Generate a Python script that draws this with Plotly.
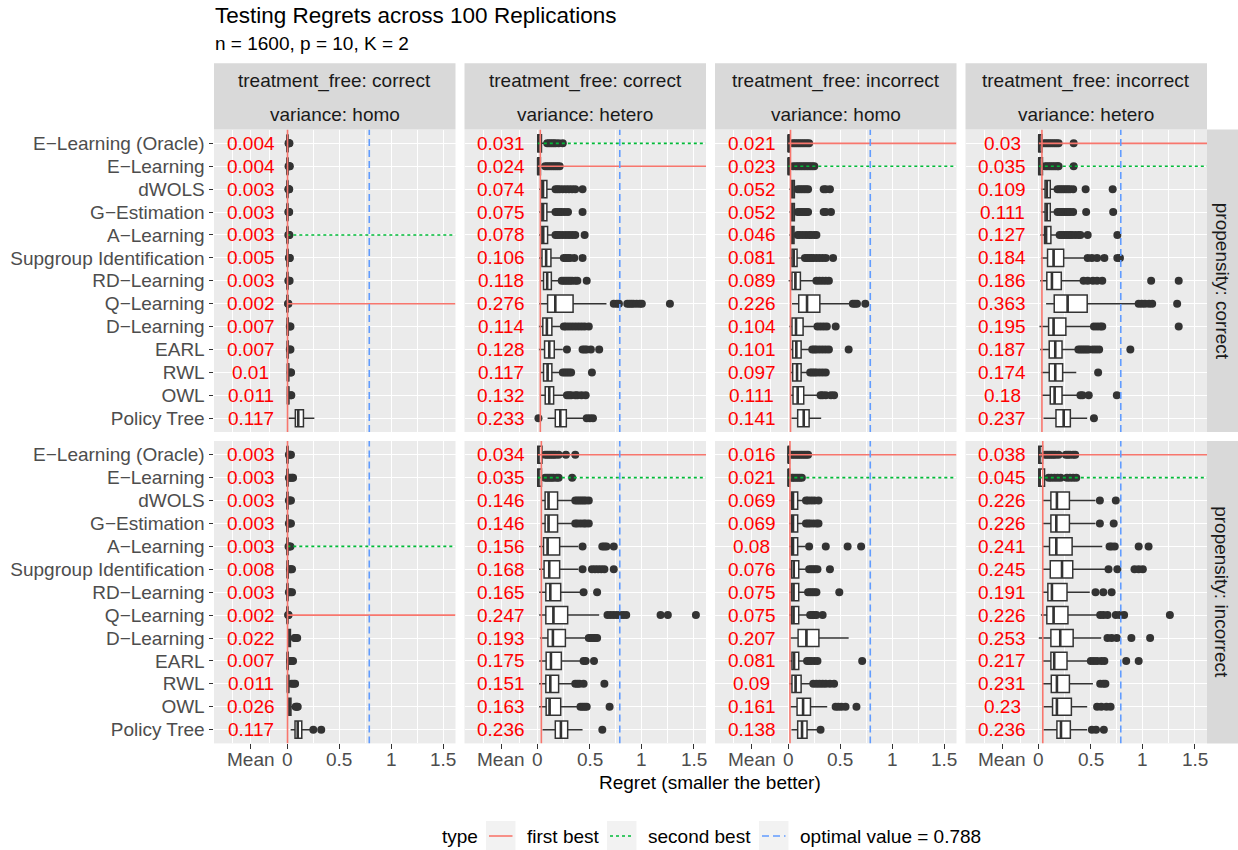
import plotly.graph_objects as go

# ---------------- data ----------------
METHODS = ["E−Learning (Oracle)", "E−Learning", "dWOLS", "G−Estimation", "A−Learning",
           "Supgroup Identification", "RD−Learning", "Q−Learning", "D−Learning", "EARL",
           "RWL", "OWL", "Policy Tree"]
TREATMENT_FREE = ["correct", "correct", "incorrect", "incorrect"]
VARIANCE = ["homo", "hetero", "homo", "hetero"]
PROPENSITY = ["correct", "incorrect"]
OPTIMAL = 0.788
X_TICKVALS = [-0.35, 0, 0.5, 1, 1.5]
X_TICKTEXT = ["Mean", "0", "0.5", "1", "1.5"]
X_MINOR = [-0.525, -0.175, 0.25, 0.75, 1.25]

# means (red labels), per panel (row = propensity, col = treatment_free/variance)
MEAN_R1C1 = [0.004, 0.004, 0.003, 0.003, 0.003, 0.005, 0.003, 0.002, 0.007, 0.007, 0.01, 0.011, 0.117]
MEAN_R1C2 = [0.031, 0.024, 0.074, 0.075, 0.078, 0.106, 0.118, 0.276, 0.114, 0.128, 0.117, 0.132, 0.233]
MEAN_R1C3 = [0.021, 0.023, 0.052, 0.052, 0.046, 0.081, 0.089, 0.226, 0.104, 0.101, 0.097, 0.111, 0.141]
MEAN_R1C4 = [0.03, 0.035, 0.109, 0.111, 0.127, 0.184, 0.186, 0.363, 0.195, 0.187, 0.174, 0.18, 0.237]
MEAN_R2C1 = [0.003, 0.003, 0.003, 0.003, 0.003, 0.008, 0.003, 0.002, 0.022, 0.007, 0.011, 0.026, 0.117]
MEAN_R2C2 = [0.034, 0.035, 0.146, 0.146, 0.156, 0.168, 0.165, 0.247, 0.193, 0.175, 0.151, 0.163, 0.236]
MEAN_R2C3 = [0.016, 0.021, 0.069, 0.069, 0.08, 0.076, 0.075, 0.075, 0.207, 0.081, 0.09, 0.161, 0.138]
MEAN_R2C4 = [0.038, 0.045, 0.226, 0.226, 0.241, 0.245, 0.191, 0.226, 0.253, 0.217, 0.231, 0.23, 0.236]

# box statistics: (lower whisker, q1, median, q3, upper whisker)
BOX_R1C1 = [(0, 0, 0.001, 0.004, 0.009), (0, 0, 0.001, 0.004, 0.009), (0, 0, 0.001, 0.003, 0.007),
            (0, 0, 0.001, 0.003, 0.007), (0, 0, 0.001, 0.003, 0.007), (0, 0, 0.002, 0.005, 0.012),
            (0, 0, 0.001, 0.003, 0.007), (0, 0, 0.001, 0.002, 0.005), (0, 0, 0.004, 0.009, 0.02),
            (0, 0.001, 0.004, 0.009, 0.02), (0, 0.002, 0.006, 0.013, 0.028), (0, 0.002, 0.007, 0.014, 0.03),
            (0.013, 0.077, 0.105, 0.155, 0.26)]
BOX_R1C2 = [(0, 0, 0.005, 0.035, 0.08), (0, 0, 0.003, 0.025, 0.06), (0.012, 0.032, 0.05, 0.087, 0.15),
            (0.012, 0.032, 0.05, 0.087, 0.15), (0.012, 0.032, 0.052, 0.094, 0.155), (0.012, 0.04, 0.08, 0.126, 0.22),
            (0.02, 0.055, 0.09, 0.13, 0.22), (0.013, 0.094, 0.168, 0.339, 0.66), (0.01, 0.048, 0.087, 0.135, 0.22),
            (0.01, 0.065, 0.11, 0.158, 0.24), (0.03, 0.055, 0.094, 0.135, 0.22), (0.02, 0.071, 0.11, 0.152, 0.26),
            (0.094, 0.168, 0.216, 0.274, 0.46)]
BOX_R1C3 = [(0, 0, 0.002, 0.015, 0.03), (0, 0, 0.002, 0.015, 0.035), (0.01, 0.03, 0.04, 0.058, 0.08),
            (0.01, 0.03, 0.04, 0.058, 0.08), (0.01, 0.03, 0.038, 0.055, 0.08), (0.012, 0.035, 0.052, 0.084, 0.14),
            (0.003, 0.035, 0.068, 0.116, 0.24), (0.035, 0.1, 0.18, 0.303, 0.6), (0.01, 0.035, 0.074, 0.142, 0.26),
            (0.02, 0.042, 0.077, 0.123, 0.21), (0.02, 0.042, 0.084, 0.123, 0.19), (0.02, 0.045, 0.09, 0.148, 0.28),
            (0.03, 0.09, 0.148, 0.2, 0.316)]
BOX_R1C4 = [(0, 0, 0.004, 0.03, 0.04), (0, 0, 0.004, 0.035, 0.045), (0.02, 0.06, 0.077, 0.11, 0.168),
            (0.02, 0.06, 0.077, 0.11, 0.168), (0.015, 0.055, 0.07, 0.116, 0.19), (0.02, 0.084, 0.142, 0.239, 0.448),
            (0.013, 0.077, 0.126, 0.216, 0.416), (0.07, 0.148, 0.277, 0.465, 0.93), (0.006, 0.094, 0.142, 0.26, 0.51),
            (0.013, 0.1, 0.158, 0.223, 0.37), (0.02, 0.1, 0.158, 0.229, 0.36), (0.03, 0.11, 0.152, 0.223, 0.37),
            (0.045, 0.165, 0.239, 0.303, 0.465)]
BOX_R2C1 = [(0, 0, 0.001, 0.004, 0.009), (0, 0, 0.001, 0.004, 0.009), (0, 0, 0.001, 0.003, 0.007),
            (0, 0, 0.001, 0.003, 0.007), (0, 0, 0.001, 0.003, 0.007), (0, 0, 0.003, 0.009, 0.02),
            (0, 0, 0.001, 0.004, 0.009), (0, 0, 0.001, 0.002, 0.005), (0, 0.005, 0.015, 0.03, 0.06),
            (0, 0, 0.003, 0.008, 0.018), (0, 0.002, 0.006, 0.014, 0.03), (0, 0.008, 0.02, 0.035, 0.07),
            (0.032, 0.074, 0.1, 0.139, 0.22)]
BOX_R2C2 = [(0, 0, 0.005, 0.04, 0.06), (0, 0, 0.005, 0.035, 0.06), (0.04, 0.07, 0.103, 0.19, 0.345),
            (0.04, 0.07, 0.103, 0.19, 0.345), (0.013, 0.055, 0.094, 0.21, 0.39), (0.013, 0.06, 0.11, 0.21, 0.39),
            (0.013, 0.077, 0.12, 0.22, 0.41), (0.013, 0.077, 0.15, 0.287, 0.59), (0.02, 0.097, 0.145, 0.265, 0.47),
            (0.013, 0.08, 0.126, 0.226, 0.43), (0.013, 0.077, 0.12, 0.2, 0.345), (0.013, 0.08, 0.113, 0.22, 0.39),
            (0.045, 0.168, 0.222, 0.287, 0.43)]
BOX_R2C3 = [(0, 0, 0.002, 0.01, 0.02), (0, 0, 0.002, 0.012, 0.025), (0.01, 0.03, 0.045, 0.09, 0.155),
            (0.01, 0.03, 0.045, 0.09, 0.155), (0.01, 0.03, 0.045, 0.09, 0.165), (0.01, 0.03, 0.052, 0.1, 0.18),
            (0.01, 0.03, 0.05, 0.1, 0.17), (0.01, 0.03, 0.05, 0.1, 0.18), (0.02, 0.094, 0.174, 0.294, 0.58),
            (0.01, 0.035, 0.055, 0.1, 0.17), (0.01, 0.035, 0.07, 0.123, 0.21), (0.02, 0.084, 0.142, 0.213, 0.374),
            (0.03, 0.09, 0.132, 0.18, 0.28)]
BOX_R2C4 = [(0, 0, 0.005, 0.035, 0.05), (0, 0, 0.008, 0.055, 0.08), (0.03, 0.116, 0.174, 0.294, 0.545),
            (0.03, 0.116, 0.168, 0.294, 0.545), (0.03, 0.103, 0.168, 0.32, 0.61), (0.03, 0.11, 0.223, 0.326, 0.64),
            (0.03, 0.087, 0.126, 0.271, 0.49), (0.02, 0.077, 0.142, 0.28, 0.57), (0.0, 0.116, 0.206, 0.33, 0.6),
            (0.03, 0.116, 0.148, 0.271, 0.49), (0.035, 0.12, 0.174, 0.294, 0.52), (0.045, 0.132, 0.174, 0.313, 0.465),
            (0.045, 0.174, 0.213, 0.303, 0.465)]

# outliers per method
OUT_R1C1 = [[0.012, 0.016, 0.02], [0.012, 0.018, 0.024], [0.01, 0.014, 0.018], [0.01, 0.014, 0.018],
            [0.01, 0.015, 0.02], [0.015, 0.02, 0.024], [0.01, 0.015, 0.022], [0.007, 0.01],
            [0.024, 0.03], [0.024, 0.03], [0.032, 0.036], [0.034, 0.038], []]
OUT_R1C2 = [[0.09, 0.11, 0.13, 0.15, 0.17, 0.2, 0.24], [0.07, 0.09, 0.11, 0.13, 0.15, 0.17, 0.19, 0.21],
            [0.17, 0.19, 0.21, 0.24, 0.27, 0.3, 0.33, 0.36, 0.43], [0.17, 0.19, 0.21, 0.23, 0.26, 0.29, 0.43],
            [0.17, 0.19, 0.21, 0.24, 0.27, 0.3, 0.33, 0.36, 0.45], [0.25, 0.27, 0.29, 0.31, 0.35, 0.43],
            [0.23, 0.25, 0.27, 0.29, 0.31, 0.33, 0.36, 0.38, 0.47],
            [0.73, 0.76, 0.78, 0.86, 0.88, 0.9, 0.92, 0.95, 0.98, 1.0, 1.27],
            [0.25, 0.27, 0.3, 0.33, 0.36, 0.39, 0.42, 0.45, 0.49], [0.28, 0.43, 0.45, 0.47, 0.51, 0.59],
            [0.24, 0.26, 0.28, 0.3, 0.32, 0.52], [0.28, 0.3, 0.32, 0.36, 0.38, 0.42, 0.46], [0.006, 0.47, 0.5, 0.53]]
OUT_R1C3 = [[0.04, 0.06, 0.08, 0.1, 0.12, 0.14, 0.16, 0.18, 0.2],
            [0.045, 0.07, 0.09, 0.11, 0.13, 0.15, 0.17, 0.19, 0.21, 0.23, 0.25],
            [0.09, 0.11, 0.13, 0.15, 0.17, 0.19, 0.34, 0.36, 0.4], [0.09, 0.11, 0.13, 0.15, 0.17, 0.19, 0.34, 0.36, 0.41],
            [0.09, 0.11, 0.14, 0.17, 0.2, 0.22, 0.25, 0.27], [0.16, 0.18, 0.2, 0.22, 0.24, 0.27, 0.3, 0.33, 0.36, 0.43],
            [0.27, 0.3, 0.33, 0.36, 0.39], [0.62, 0.64, 0.66, 0.74], [0.28, 0.31, 0.34, 0.37, 0.455],
            [0.23, 0.25, 0.27, 0.3, 0.33, 0.36, 0.39, 0.58], [0.21, 0.23, 0.25, 0.27, 0.3, 0.33, 0.36],
            [0.31, 0.33, 0.36, 0.41, 0.44], []]
OUT_R1C4 = [[0.05, 0.07, 0.09, 0.11, 0.13, 0.15, 0.17, 0.19, 0.335], [0.06, 0.08, 0.1, 0.12, 0.14, 0.16, 0.18, 0.19, 0.335],
            [0.18, 0.2, 0.22, 0.24, 0.26, 0.28, 0.3, 0.33, 0.45, 0.71],
            [0.18, 0.2, 0.22, 0.24, 0.26, 0.28, 0.3, 0.33, 0.455, 0.715],
            [0.2, 0.22, 0.24, 0.26, 0.28, 0.3, 0.32, 0.35, 0.38, 0.4, 0.47, 0.755],
            [0.47, 0.51, 0.56, 0.63, 0.755, 0.78], [0.43, 0.47, 0.52, 0.56, 0.61, 1.08, 1.345],
            [0.96, 0.99, 1.02, 1.06, 1.09, 1.33], [0.53, 0.56, 0.59, 0.61, 1.345],
            [0.38, 0.4, 0.42, 0.44, 0.46, 0.48, 0.52, 0.55, 0.58, 0.88], [0.57], [0.4, 0.42, 0.48, 0.75], [0.53]]
OUT_R2C1 = [[0.015, 0.025, 0.035], [0.015, 0.03, 0.045, 0.055], [0.015, 0.025, 0.035], [0.015, 0.025, 0.035],
            [0.012, 0.02, 0.03], [0.025, 0.035, 0.045], [0.015, 0.03, 0.045], [0.008, 0.012],
            [0.07, 0.08, 0.095], [0.025, 0.04, 0.055], [0.04, 0.06, 0.075], [0.08, 0.09, 0.1], [0.25, 0.326]]
OUT_R2C2 = [[0.07, 0.09, 0.11, 0.13, 0.15, 0.17, 0.2, 0.27, 0.36], [0.07, 0.09, 0.11, 0.13, 0.15, 0.18, 0.2, 0.33],
            [0.36, 0.38, 0.4, 0.42, 0.44, 0.46, 0.49], [0.36, 0.38, 0.41, 0.44, 0.46, 0.49],
            [0.43, 0.62, 0.64, 0.66, 0.73], [0.43, 0.52, 0.55, 0.58, 0.61, 0.64, 0.73], [0.44, 0.57],
            [0.67, 0.7, 0.73, 0.76, 0.79, 0.82, 0.85, 1.18, 1.25, 1.52], [0.49, 0.51, 0.53, 0.55, 0.57],
            [0.44, 0.46, 0.54], [0.36, 0.38, 0.4, 0.44, 0.64], [0.41, 0.43, 0.45, 0.47, 0.69], [0.62]]
OUT_R2C3 = [[0.03, 0.05, 0.07, 0.09, 0.11, 0.13, 0.15, 0.17, 0.19], [0.035, 0.05, 0.07, 0.09, 0.11, 0.13],
            [0.17, 0.19, 0.22, 0.25, 0.29], [0.17, 0.19, 0.21, 0.24, 0.27, 0.29], [0.2, 0.36, 0.57, 0.7],
            [0.2, 0.22, 0.24, 0.26, 0.28, 0.4], [0.19, 0.21, 0.23, 0.25, 0.27, 0.49], [0.21, 0.23, 0.25, 0.27, 0.33],
            [], [0.18, 0.2, 0.22, 0.25, 0.28, 0.71], [0.24, 0.27, 0.3, 0.33, 0.36, 0.4, 0.44],
            [0.455, 0.48, 0.51, 0.55, 0.655], [0.31]]
OUT_R2C4 = [[0.06, 0.08, 0.1, 0.12, 0.14, 0.16, 0.19, 0.26, 0.28, 0.3, 0.33, 0.35],
            [0.094, 0.12, 0.15, 0.18, 0.21, 0.27, 0.3, 0.33, 0.36], [0.587, 0.74], [0.587, 0.72],
            [0.68, 0.7, 0.73, 0.96, 1.055], [0.67, 0.755, 0.92, 0.96, 1.0], [0.545, 0.62, 0.7],
            [0.59, 0.62, 0.66, 0.74, 0.78, 0.82, 1.26], [0.66, 0.7, 0.75, 0.89, 1.07],
            [0.5, 0.53, 0.56, 0.6, 0.63, 0.84, 0.96], [0.59, 0.62, 0.64], [0.56, 0.6, 0.65, 0.69], [0.51, 0.55, 0.625]]

FIRST_BEST = ["Q−Learning", "E−Learning", "E−Learning (Oracle)", "E−Learning (Oracle)",
              "Q−Learning", "E−Learning (Oracle)", "E−Learning (Oracle)", "E−Learning (Oracle)"]
SECOND_BEST = ["A−Learning", "E−Learning (Oracle)", "E−Learning", "E−Learning",
               "A−Learning", "E−Learning", "E−Learning", "E−Learning"]

MEANS = [MEAN_R1C1, MEAN_R1C2, MEAN_R1C3, MEAN_R1C4, MEAN_R2C1, MEAN_R2C2, MEAN_R2C3, MEAN_R2C4]
BOXES = [BOX_R1C1, BOX_R1C2, BOX_R1C3, BOX_R1C4, BOX_R2C1, BOX_R2C2, BOX_R2C3, BOX_R2C4]
OUTS = [OUT_R1C1, OUT_R1C2, OUT_R1C3, OUT_R1C4, OUT_R2C1, OUT_R2C2, OUT_R2C3, OUT_R2C4]

# ---------------- layout geometry ----------------
W, H = 1238, 850
FONT = "Liberation Sans, Arial, sans-serif"
FS = 19
RED, GREEN, BLUE = "#F8766D", "#00BA38", "#619CFF"
COL_LEFT = [214, 464.5, 715, 965.5]
PW = 241.5
ROW_TOP = [129.6, 441.0]
PH = 302.4
XR = [-0.705, 1.617]
YR = [13.6, 0.4]


def fx(p):
    return p / W


def fy(p):
    return 1 - p / H


fig = go.Figure()
layout = dict(width=W, height=H, margin=dict(l=0, r=0, t=0, b=0),
              paper_bgcolor="white", plot_bgcolor="#EBEBEB", showlegend=False,
              font=dict(family=FONT, size=FS, color="#4D4D4D"))
shapes, annotations = [], []
pos = list(range(1, len(METHODS) + 1))

for r in range(2):
    for c in range(4):
        k = r * 4 + c
        n = k + 1
        xs = "x" if n == 1 else f"x{n}"
        ys = "y" if n == 1 else f"y{n}"
        xl = "xaxis" if n == 1 else f"xaxis{n}"
        yl = "yaxis" if n == 1 else f"yaxis{n}"
        layout[xl] = dict(domain=[fx(COL_LEFT[c]), fx(COL_LEFT[c] + PW)], range=XR, anchor=ys,
                          tickvals=X_TICKVALS, ticktext=X_TICKTEXT, showticklabels=False,
                          ticks="outside" if r == 1 else "", ticklen=4.5, tickwidth=1.1, tickcolor="#333333",
                          showgrid=True, gridcolor="white", gridwidth=1.3, zeroline=False, showline=False,
                          minor=dict(tickvals=X_MINOR, showgrid=True, gridcolor="white", gridwidth=0.6, ticks=""))
        layout[yl] = dict(domain=[fy(ROW_TOP[r] + PH), fy(ROW_TOP[r])], range=YR, anchor=xs,
                          tickvals=pos, ticktext=METHODS, showticklabels=(c == 0),
                          ticks="outside" if c == 0 else "", ticklen=4.5, tickwidth=1.1, tickcolor="#333333",
                          showgrid=True, gridcolor="white", gridwidth=1.3, zeroline=False, showline=False,
                          tickfont=dict(size=FS, color="#4D4D4D", family=FONT))
        if r == 1:
            for tv, tt in zip(X_TICKVALS, X_TICKTEXT):
                annotations.append(dict(x=tv, y=fy(759), xref=xs, yref="paper", text=tt, showarrow=False,
                                        xanchor="center", yanchor="middle",
                                        font=dict(size=FS, color="#4D4D4D", family=FONT)))
        box = BOXES[k]
        fig.add_trace(go.Box(
            y=pos, lowerfence=[b[0] for b in box], q1=[b[1] for b in box], median=[b[2] for b in box],
            q3=[b[3] for b in box], upperfence=[b[4] for b in box], orientation="h", width=0.75,
            whiskerwidth=0, fillcolor="white", line=dict(color="#333333", width=1.5), boxpoints=False,
            xaxis=xs, yaxis=ys, hoverinfo="skip"))
        # thicker median lines
        mx, my = [], []
        for i, b in enumerate(box):
            mx += [b[2], b[2], None]
            my += [pos[i] - 0.375, pos[i] + 0.375, None]
        fig.add_trace(go.Scatter(x=mx, y=my, mode="lines", line=dict(color="#333333", width=2.6),
                                 xaxis=xs, yaxis=ys, hoverinfo="skip"))
        # outliers
        ox, oy = [], []
        for i, outs in enumerate(OUTS[k]):
            ox += outs
            oy += [pos[i]] * len(outs)
        fig.add_trace(go.Scatter(x=ox, y=oy, mode="markers", marker=dict(color="#333333", size=8),
                                 xaxis=xs, yaxis=ys, hoverinfo="skip"))
        # mean labels
        for i, m in enumerate(MEANS[k]):
            annotations.append(dict(x=-0.35, y=pos[i], xref=xs, yref=ys, text=f"{m:g}", showarrow=False,
                                    xanchor="center", yanchor="middle",
                                    font=dict(color="red", size=FS, family=FONT)))
        fb = METHODS.index(FIRST_BEST[k])
        sb = METHODS.index(SECOND_BEST[k])
        fb_mean = MEANS[k][fb]
        shapes.append(dict(type="line", xref=xs, yref=ys, x0=0, x1=XR[1], y0=pos[sb], y1=pos[sb],
                           line=dict(color=GREEN, width=1.6, dash="3px,3px"), layer="above"))
        shapes.append(dict(type="line", xref=xs, yref=ys, x0=0, x1=XR[1], y0=pos[fb], y1=pos[fb],
                           line=dict(color=RED, width=1.6), layer="above"))
        shapes.append(dict(type="line", xref=xs, yref=ys, x0=fb_mean, x1=fb_mean, y0=YR[0], y1=YR[1],
                           line=dict(color=RED, width=1.6), layer="above"))
        shapes.append(dict(type="line", xref=xs, yref=ys, x0=OPTIMAL, x1=OPTIMAL, y0=YR[0], y1=YR[1],
                           line=dict(color=BLUE, width=1.6, dash="7px,4px"), layer="above"))

# top strips
for c in range(4):
    shapes.append(dict(type="rect", xref="paper", yref="paper", x0=fx(COL_LEFT[c]), x1=fx(COL_LEFT[c] + PW),
                       y0=fy(129.6), y1=fy(63.3), fillcolor="#D9D9D9", line=dict(width=0), layer="below"))
    cx = fx(COL_LEFT[c] + PW / 2)
    annotations.append(dict(x=cx, y=fy(81), xref="paper", yref="paper", text=f"treatment_free: {TREATMENT_FREE[c]}",
                            showarrow=False, xanchor="center", yanchor="middle",
                            font=dict(size=FS, color="#1A1A1A", family=FONT)))
    annotations.append(dict(x=cx, y=fy(114), xref="paper", yref="paper", text=f"variance: {VARIANCE[c]}",
                            showarrow=False, xanchor="center", yanchor="middle",
                            font=dict(size=FS, color="#1A1A1A", family=FONT)))
# right strips
for r in range(2):
    shapes.append(dict(type="rect", xref="paper", yref="paper", x0=fx(COL_LEFT[3] + PW), x1=1,
                       y0=fy(ROW_TOP[r] + PH), y1=fy(ROW_TOP[r]), fillcolor="#D9D9D9", line=dict(width=0),
                       layer="below"))
    annotations.append(dict(x=fx(1222), y=fy(ROW_TOP[r] + PH / 2), xref="paper", yref="paper",
                            text=f"propensity: {PROPENSITY[r]}", textangle=90, showarrow=False,
                            xanchor="center", yanchor="middle", font=dict(size=FS, color="#1A1A1A", family=FONT)))

# titles
annotations.append(dict(x=fx(213), y=fy(16), xref="paper", yref="paper", text="Testing Regrets across 100 Replications",
                        showarrow=False, xanchor="left", yanchor="middle", font=dict(size=22.5, color="black", family=FONT)))
annotations.append(dict(x=fx(213), y=fy(44), xref="paper", yref="paper", text="n = 1600, p = 10, K = 2",
                        showarrow=False, xanchor="left", yanchor="middle", font=dict(size=FS, color="black", family=FONT)))
annotations.append(dict(x=fx(710), y=fy(782), xref="paper", yref="paper", text="Regret (smaller the better)",
                        showarrow=False, xanchor="center", yanchor="middle", font=dict(size=FS, color="black", family=FONT)))

# legend (manual)
LEG_Y = 836
annotations.append(dict(x=fx(440), y=fy(LEG_Y), xref="paper", yref="paper", text="type", showarrow=False,
                        xanchor="left", yanchor="middle", font=dict(size=FS, color="black", family=FONT)))
legend_items = [(486, "first best", RED, "solid"), (607, "second best", GREEN, "3px,3px"),
                (759, "optimal value = 0.788", BLUE, "7px,4px")]
for kx, label, col, dash in legend_items:
    shapes.append(dict(type="rect", xref="paper", yref="paper", x0=fx(kx), x1=fx(kx + 29.5),
                       y0=fy(850), y1=fy(821), fillcolor="#F2F2F2", line=dict(width=0)))
    shapes.append(dict(type="line", xref="paper", yref="paper", x0=fx(kx + 3), x1=fx(kx + 26.5),
                       y0=fy(LEG_Y), y1=fy(LEG_Y), line=dict(color=col, width=1.6, dash=dash)))
    annotations.append(dict(x=fx(kx + 39), y=fy(LEG_Y), xref="paper", yref="paper", text=label, showarrow=False,
                            xanchor="left", yanchor="middle", font=dict(size=FS, color="black", family=FONT)))

layout["shapes"] = shapes
layout["annotations"] = annotations
fig.update_layout(**layout)
fig.write_html("out.html")
